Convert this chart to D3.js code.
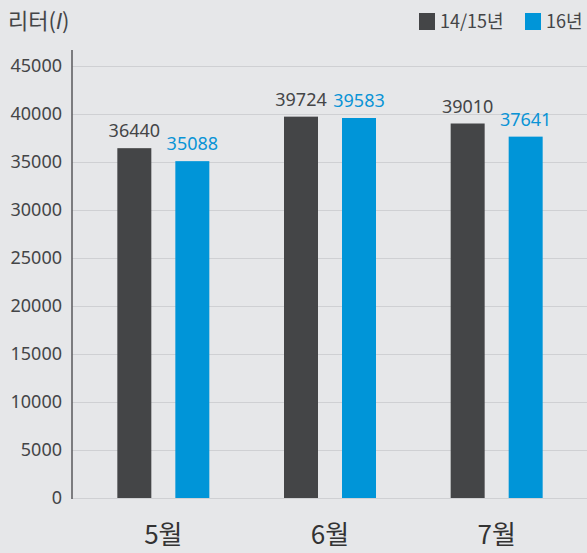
<!DOCTYPE html>
<html>
<head>
<meta charset="utf-8">
<script src="https://cdn.jsdelivr.net/npm/d3@7"></script>
<style>
  body { margin: 0; background: #e6e7e9; }
  svg { display: block; font-family: "Noto Sans CJK KR", "Noto Sans", sans-serif; }
</style>
</head>
<body>
<div id="chart"></div>
<script>
// data
const months = ['5월', '6월', '7월'];
const seriesNames = ['14/15년', '16년'];
const values1415 = [36440, 39724, 39010];
const values16 = [35088, 39583, 37641];
const yTicks = [0, 5000, 10000, 15000, 20000, 25000, 30000, 35000, 40000, 45000];

const colors = {'14/15년': '#444547', '16년': '#0095d8'};
const labelColors = {'14/15년': '#444547', '16년': '#0a94d6'};

const width = 587, height = 553;
const svg = d3.select('#chart')
    .append('svg')
    .attr('width', width)
    .attr('height', height);

const rows = months.map((m, i) => ({month: m, '14/15년': values1415[i], '16년': values16[i]}));

// scales
const x0 = d3.scaleBand()
    .domain(months)
    .range([80, 580]);

const x1 = d3.scaleBand()
    .domain(seriesNames)
    .range([-46, 46])
    .paddingInner(0.414);

const yScale = d3.scaleLinear()
    .domain([0, 45000])
    .range([498, 66]);

// gridlines
svg.append('g')
    .attr('class', 'grid')
    .attr('transform', 'translate(72,0)')
    .call(d3.axisLeft(yScale).tickValues(yTicks).tickSize(-(width - 72)).tickFormat(''))
    .call(g => g.select('.domain').remove())
    .call(g => g.selectAll('line').attr('stroke', '#cfd0d3').attr('stroke-width', 1.2));

// y axis labels
svg.append('g')
    .attr('class', 'axis y-axis')
    .attr('transform', 'translate(72,0)')
    .call(d3.axisLeft(yScale).tickValues(yTicks).tickSize(0).tickPadding(10).tickFormat(d => d))
    .call(g => g.select('.domain').remove())
    .call(g => g.selectAll('text')
        .attr('font-size', 18)
        .attr('fill', '#444547')
        .attr('font-family', '"Noto Sans", sans-serif'));

svg.append('line')
    .attr('x1', 72).attr('x2', 72)
    .attr('y1', 50).attr('y2', 499)
    .attr('stroke', '#58595b')
    .attr('stroke-width', 1.5);

// bars
const groups = svg.selectAll('.group')
    .data(rows)
    .enter()
    .append('g')
    .attr('class', 'group')
    .attr('transform', d => 'translate(' + (x0(d.month) + x0.bandwidth() / 2) + ',0)');

groups.selectAll('rect')
    .data(d => seriesNames.map(k => ({key: k, value: d[k]})))
    .enter()
    .append('rect')
    .attr('x', d => x1(d.key))
    .attr('width', x1.bandwidth())
    .attr('y', d => yScale(d.value))
    .attr('height', d => yScale(0) - yScale(d.value))
    .attr('fill', d => colors[d.key]);

groups.selectAll('.value')
    .data(d => seriesNames.map(k => ({key: k, value: d[k]})))
    .enter()
    .append('text')
    .attr('class', 'value')
    .attr('x', d => x1(d.key) + x1.bandwidth() / 2)
    .attr('y', d => yScale(d.value) - 11)
    .attr('text-anchor', 'middle')
    .attr('font-size', 18)
    .attr('font-family', '"Noto Sans", sans-serif')
    .attr('fill', d => labelColors[d.key])
    .text(d => d.value);

// month labels
svg.append('g')
    .attr('class', 'axis x-axis')
    .attr('transform', 'translate(0,499)')
    .call(d3.axisBottom(x0).tickSize(0).tickPadding(27))
    .call(g => g.select('.domain').remove())
    .call(g => g.selectAll('text')
        .attr('font-size', 26)
        .attr('fill', '#333')
        .attr('font-family', '"Noto Sans CJK KR", sans-serif'));

// title
const title = svg.append('text')
    .attr('x', 8)
    .attr('y', 29)
    .attr('font-size', 22)
    .attr('fill', '#444547');
title.append('tspan').text('리터(');
title.append('tspan').attr('font-style', 'italic').attr('font-family', '"DejaVu Sans", sans-serif').attr('font-weight', 300).text('l');
title.append('tspan').text(')');

// legend
const legendX = [419, 525];
const legend = svg.selectAll('.legend')
    .data(seriesNames)
    .enter()
    .append('g')
    .attr('class', 'legend')
    .attr('transform', (d, i) => 'translate(' + legendX[i] + ',13)');

legend.append('rect')
    .attr('width', 16)
    .attr('height', 17)
    .attr('fill', d => colors[d]);

legend.append('text')
    .attr('x', 21)
    .attr('y', 15)
    .attr('font-size', 18)
    .attr('fill', '#444547')
    .text(d => d);
</script>
</body>
</html>
